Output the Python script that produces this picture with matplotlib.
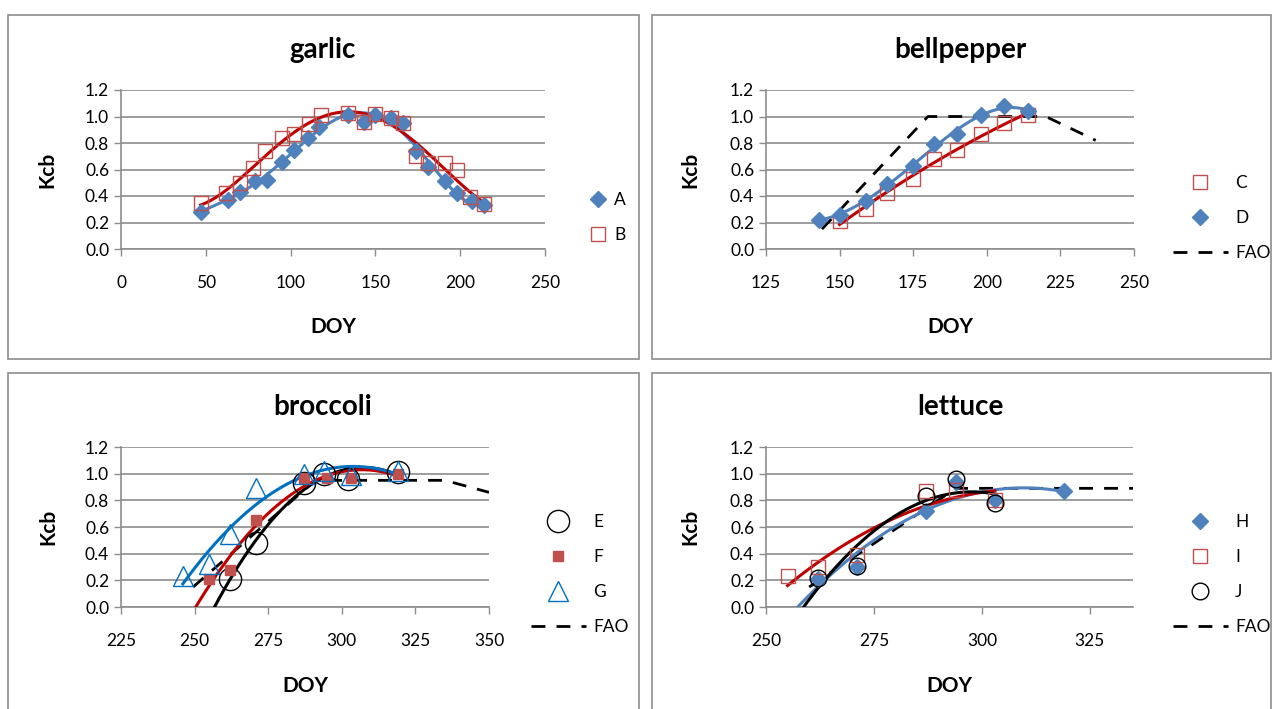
import numpy as np
import matplotlib.pyplot as plt
from matplotlib.patches import Rectangle

plt.rcParams['font.family'] = ['Lato', 'DejaVu Sans']

# ---- garlic ----
garlic_doy_a = [47, 63, 70, 79, 86, 95, 102, 110, 117, 134, 143, 150, 159, 166, 174, 181, 191, 198, 207, 214]
garlic_kcb_a = [0.28, 0.37, 0.43, 0.51, 0.52, 0.66, 0.75, 0.84, 0.92, 1.01, 0.96, 1.01, 0.99, 0.95, 0.74, 0.62, 0.51, 0.42, 0.36, 0.33]
garlic_doy_b = [47, 62, 70, 78, 85, 95, 102, 111, 118, 134, 143, 150, 159, 166, 174, 181, 191, 198, 206, 214]
garlic_kcb_b = [0.35, 0.42, 0.50, 0.61, 0.74, 0.84, 0.87, 0.94, 1.01, 1.03, 0.96, 1.02, 0.99, 0.95, 0.70, 0.65, 0.65, 0.60, 0.39, 0.34]

# ---- bellpepper ----
pepper_doy_c = [150, 159, 166, 175, 182, 190, 198, 206, 214]
pepper_kcb_c = [0.21, 0.30, 0.42, 0.53, 0.68, 0.75, 0.87, 0.95, 1.01]
pepper_doy_d = [143, 150, 159, 166, 175, 182, 190, 198, 206, 214]
pepper_kcb_d = [0.22, 0.26, 0.36, 0.49, 0.63, 0.79, 0.87, 1.01, 1.08, 1.04]
pepper_doy_fao = [144, 180, 220, 237]
pepper_kcb_fao = [0.15, 1.00, 1.00, 0.82]

# ---- broccoli ----
broc_doy_e = [262, 271, 287, 294, 302, 319]
broc_kcb_e = [0.21, 0.48, 0.93, 1.00, 0.96, 1.01]
broc_doy_f = [255, 262, 271, 287, 295, 303, 319]
broc_kcb_f = [0.21, 0.28, 0.65, 0.97, 0.97, 0.97, 1.00]
broc_doy_g = [246, 255, 262, 271, 287, 294, 303, 319]
broc_kcb_g = [0.23, 0.32, 0.55, 0.89, 1.00, 1.02, 0.99, 1.02]
broc_doy_fao = [249.5, 291, 335, 350]
broc_kcb_fao = [0.15, 0.95, 0.95, 0.86]

# ---- lettuce ----
lett_doy_h = [262, 271, 287, 294, 303, 319]
lett_kcb_h = [0.21, 0.30, 0.72, 0.94, 0.80, 0.87]
lett_doy_i = [255, 262, 271, 287, 294, 303]
lett_kcb_i = [0.23, 0.30, 0.39, 0.87, 0.88, 0.80]
lett_doy_j = [262, 271, 287, 294, 303]
lett_kcb_j = [0.22, 0.31, 0.83, 0.96, 0.78]
lett_doy_fao = [260, 294, 335]
lett_kcb_fao = [0.15, 0.89, 0.89]

BLUE = '#4F81BD'
RED = '#C0504D'
DARKRED = '#C00000'
BRIGHTBLUE = '#0070C0'
GRID = '#8C8C8C'

W, H = 1272, 709
fig = plt.figure(figsize=(W / 100, H / 100), dpi=100)


def px_axes(x0, x1, ytop, ybot):
    # axes rectangle given in pixels of the reference
    return fig.add_axes([x0 / W, 1 - ybot / H, (x1 - x0) / W, (ybot - ytop) / H])


def trend(ax, x, y, deg, x0, x1, color):
    c = np.polyfit(x, y, deg)
    xs = np.linspace(x0, x1, 200)
    ax.plot(xs, np.polyval(c, xs), color=color, lw=2.2, zorder=4)


def style(ax, title, xlim, xticks, title_x, title_y, ylab_x):
    ax.set_xlim(*xlim)
    ax.set_ylim(0, 1.2)
    ax.set_xticks(xticks)
    ax.set_yticks(np.arange(0, 1.21, 0.2))
    ax.set_yticklabels([f'{v:.1f}' for v in np.arange(0, 1.21, 0.2)])
    ax.grid(axis='y', color=GRID, lw=1.2)
    ax.set_axisbelow(True)
    for s in ('top', 'right'):
        ax.spines[s].set_visible(False)
    for s in ('left', 'bottom'):
        ax.spines[s].set_color(GRID)
        ax.spines[s].set_linewidth(1.2)
    ax.tick_params(colors=GRID, labelcolor='black', labelsize=12.5, length=5, width=1)
    ax.tick_params(axis='x', pad=14)
    ax.set_xlabel('DOY', fontsize=15, fontweight='bold')
    ax.xaxis.set_label_coords(0.5, -0.43)
    ax.set_ylabel('Kcb', fontsize=15, fontweight='bold')
    ax.yaxis.set_label_coords(ylab_x, 0.5)
    fig.text(title_x / W, 1 - title_y / H, title, fontsize=20, fontweight='bold',
             ha='center', va='center')


def legend(ax, x, y, hl=3.2):
    lg = ax.legend(loc='upper left', bbox_to_anchor=(x / W, 1 - y / H),
                   bbox_transform=fig.transFigure, frameon=False, fontsize=12.5,
                   handlelength=hl, handletextpad=0.4, labelspacing=1.1)
    return lg


# chart borders
for (bx0, by0, bx1, by1) in [(8, 15, 639, 359), (652, 15, 1271, 359),
                             (8, 373, 639, 712), (652, 373, 1271, 712)]:
    fig.patches.append(Rectangle((bx0 / W, 1 - by1 / H), (bx1 - bx0) / W, (by1 - by0) / H,
                                 transform=fig.transFigure, fill=False,
                                 edgecolor=GRID, lw=1.2))

# garlic
ax1 = px_axes(121, 545, 90, 249)
ax1.plot(garlic_doy_a, garlic_kcb_a, 'D', color=BLUE, ms=8, ls='none', label='A', zorder=5)
ax1.plot(garlic_doy_b, garlic_kcb_b, 's', mfc='none', mec=RED, ms=10, ls='none', label='B', zorder=5)
trend(ax1, garlic_doy_a, garlic_kcb_a, 6, 47, 214, BLUE)
trend(ax1, garlic_doy_b, garlic_kcb_b, 4, 47, 214, DARKRED)
style(ax1, 'garlic', (0, 250), range(0, 251, 50), 323, 50, -0.149)
legend(ax1, 574, 176, hl=1.0)

# bellpepper
ax2 = px_axes(766, 1134, 90, 249)
ax2.plot(pepper_doy_c, pepper_kcb_c, 's', mfc='none', mec=RED, ms=10, ls='none', label='C', zorder=5)
ax2.plot(pepper_doy_d, pepper_kcb_d, 'D', color=BLUE, ms=8, ls='none', label='D', zorder=5)
ax2.plot(pepper_doy_fao, pepper_kcb_fao, color='black', lw=2, dashes=(5, 4), label='FAO', zorder=3)
trend(ax2, pepper_doy_c, pepper_kcb_c, 2, 150, 214, DARKRED)
trend(ax2, pepper_doy_d, pepper_kcb_d, 4, 143, 214, BLUE)
style(ax2, 'bellpepper', (125, 250), range(125, 251, 25), 960, 50, -0.179)
legend(ax2, 1157, 159)

# broccoli
ax3 = px_axes(121, 489, 447, 607)
ax3.plot(broc_doy_e, broc_kcb_e, 'o', mfc='none', mec='black', ms=16, ls='none', label='E', zorder=5)
ax3.plot(broc_doy_f, broc_kcb_f, 's', color=RED, ms=7.5, ls='none', label='F', zorder=5)
ax3.plot(broc_doy_g, broc_kcb_g, '^', mfc='none', mec=BRIGHTBLUE, ms=14, ls='none', label='G', zorder=5)
ax3.plot(broc_doy_fao, broc_kcb_fao, color='black', lw=2, dashes=(5, 4), label='FAO', zorder=3)
trend(ax3, broc_doy_e, broc_kcb_e, 2, 256, 319, 'black')
trend(ax3, broc_doy_f, broc_kcb_f, 2, 249, 319.5, DARKRED)
trend(ax3, broc_doy_g, broc_kcb_g, 2, 246, 319, BRIGHTBLUE)
style(ax3, 'broccoli', (225, 350), range(225, 351, 25), 323, 407, -0.171)
legend(ax3, 515, 498)

# lettuce
ax4 = px_axes(766, 1133, 447, 607)
ax4.plot(lett_doy_h, lett_kcb_h, 'D', color=BLUE, ms=8, ls='none', label='H', zorder=5)
ax4.plot(lett_doy_i, lett_kcb_i, 's', mfc='none', mec=RED, ms=10, ls='none', label='I', zorder=5)
ax4.plot(lett_doy_j, lett_kcb_j, 'o', mfc='none', mec='black', ms=12, ls='none', label='J', zorder=5)
ax4.plot(lett_doy_fao, lett_kcb_fao, color='black', lw=2, dashes=(5, 4), label='FAO', zorder=3)
trend(ax4, lett_doy_h, lett_kcb_h, 2, 256, 319, BLUE)
trend(ax4, lett_doy_i, lett_kcb_i, 2, 255, 303, DARKRED)
trend(ax4, lett_doy_j, lett_kcb_j, 2, 256, 303, 'black')
style(ax4, 'lettuce', (250, 335), range(250, 326, 25), 960, 407, -0.179)
legend(ax4, 1157, 498)

fig.savefig('out.png', dpi=100)
